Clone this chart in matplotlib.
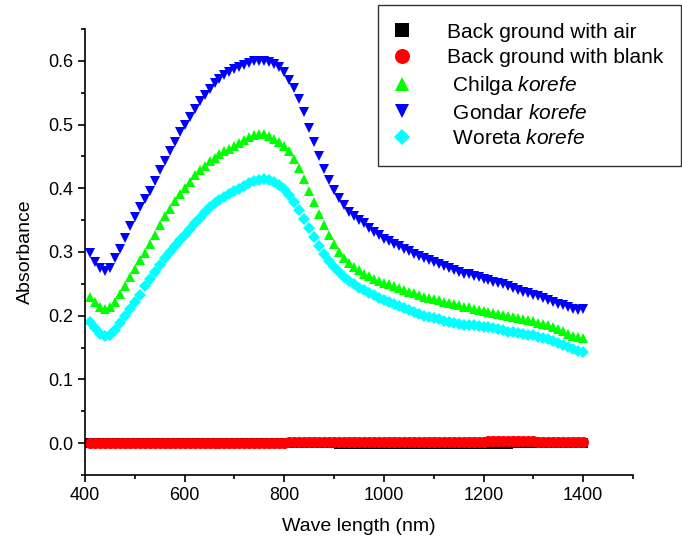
import numpy as np
import matplotlib
matplotlib.use("Agg")
import matplotlib.pyplot as plt

plt.rcParams['font.family'] = ['Liberation Sans', 'DejaVu Sans']
plt.rcParams['mathtext.fontset'] = 'custom'
plt.rcParams['mathtext.it'] = 'Liberation Sans:italic'
plt.rcParams['mathtext.rm'] = 'Liberation Sans'

# wavelength grid (nm)
wavelength = list(range(410, 1401, 10))

# background with air
air = [0.000] * 50 + [-0.001] * 35 + [0.000] * 15

# background with blank
blank = [0.000] * 40 + [0.001] * 30 + [0.002] * 10 + [0.003] * 10 + [0.001] * 10

# Gondar korefe
gondar = [
    0.298, 0.285, 0.275, 0.270, 0.275, 0.290, 0.305, 0.322, 0.340, 0.355,
    0.370, 0.383, 0.396, 0.412, 0.428, 0.443, 0.458, 0.473, 0.488, 0.500,
    0.512, 0.525, 0.537, 0.547, 0.556, 0.565, 0.571, 0.577, 0.582, 0.587,
    0.591, 0.594, 0.597, 0.599, 0.600, 0.600, 0.598, 0.595, 0.590, 0.582,
    0.570, 0.557, 0.540, 0.520, 0.495, 0.472, 0.450, 0.430, 0.413, 0.397,
    0.385, 0.373, 0.363, 0.356, 0.350, 0.345, 0.338, 0.332, 0.326, 0.321,
    0.317, 0.313, 0.309, 0.305, 0.301, 0.297, 0.294, 0.290, 0.287, 0.284,
    0.281, 0.278, 0.275, 0.271, 0.268, 0.266, 0.266, 0.263, 0.260, 0.258,
    0.256, 0.253, 0.251, 0.249, 0.246, 0.243, 0.240, 0.237, 0.235, 0.233,
    0.231, 0.228, 0.225, 0.222, 0.219, 0.216, 0.213, 0.210, 0.209, 0.211,
]

# Chilga korefe
chilga = [
    0.230, 0.222, 0.214, 0.211, 0.213, 0.222, 0.234, 0.247, 0.260, 0.273,
    0.287, 0.299, 0.313, 0.327, 0.342, 0.356, 0.368, 0.380, 0.391, 0.400,
    0.410, 0.420, 0.428, 0.435, 0.442, 0.448, 0.453, 0.458, 0.462, 0.467,
    0.471, 0.476, 0.480, 0.483, 0.485, 0.485, 0.482, 0.478, 0.473, 0.467,
    0.458, 0.446, 0.431, 0.414, 0.396, 0.378, 0.360, 0.342, 0.326, 0.312,
    0.300, 0.290, 0.282, 0.276, 0.271, 0.266, 0.262, 0.258, 0.255, 0.252,
    0.249, 0.246, 0.243, 0.240, 0.237, 0.235, 0.232, 0.230, 0.228, 0.226,
    0.224, 0.222, 0.220, 0.218, 0.216, 0.214, 0.213, 0.211, 0.209, 0.207,
    0.205, 0.204, 0.202, 0.201, 0.199, 0.198, 0.196, 0.195, 0.193, 0.191,
    0.189, 0.187, 0.185, 0.182, 0.179, 0.176, 0.172, 0.168, 0.166, 0.165,
]

# Woreta korefe
woreta = [
    0.190, 0.180, 0.172, 0.168, 0.170, 0.178, 0.189, 0.200, 0.210, 0.221,
    0.233, 0.246, 0.258, 0.268, 0.280, 0.290, 0.300, 0.309, 0.318, 0.327,
    0.336, 0.346, 0.354, 0.362, 0.370, 0.377, 0.382, 0.387, 0.391, 0.395,
    0.399, 0.404, 0.408, 0.411, 0.413, 0.414, 0.413, 0.410, 0.405, 0.399,
    0.390, 0.379, 0.366, 0.352, 0.338, 0.323, 0.310, 0.297, 0.286, 0.277,
    0.269, 0.261, 0.254, 0.249, 0.244, 0.240, 0.236, 0.232, 0.228, 0.225,
    0.221, 0.218, 0.215, 0.212, 0.209, 0.206, 0.203, 0.200, 0.198, 0.196,
    0.194, 0.192, 0.190, 0.188, 0.187, 0.186, 0.186, 0.185, 0.184, 0.183,
    0.182, 0.181, 0.179, 0.177, 0.175, 0.174, 0.173, 0.172, 0.170, 0.169,
    0.167, 0.165, 0.163, 0.160, 0.157, 0.154, 0.151, 0.148, 0.145, 0.143,
]

labels = ['Back ground with air', 'Back ground with blank',
          r' Chilga $\it{korefe}$', r' Gondar $\it{korefe}$', r' Woreta $\it{korefe}$']

fig = plt.figure(figsize=(6.82, 5.5), dpi=100)
ax = fig.add_axes([0.1246, 0.1364, 0.8035, 0.811])

ms = 7
h1, = ax.plot(wavelength, air, 's', color='black', ms=ms, mew=0)
h2, = ax.plot(wavelength, blank, 'o', color='#ff0000', ms=ms + 1, mew=0)
h3, = ax.plot(wavelength, chilga, '^', color='#00ff00', ms=ms, mew=0)
h4, = ax.plot(wavelength, gondar, 'v', color='#0000ff', ms=ms, mew=0)
h5, = ax.plot(wavelength, woreta, 'D', color='#00ffff', ms=ms * 0.85, mew=0)

ax.set_xlim(400, 1500)
ax.set_ylim(-0.05, 0.65)
ax.set_xticks([400, 600, 800, 1000, 1200, 1400])
ax.set_xticks(np.arange(500, 1501, 200), minor=True)
ax.set_yticks(np.arange(0, 0.61, 0.1))
ax.set_yticks(np.arange(-0.05, 0.66, 0.1), minor=True)
ax.yaxis.set_major_formatter(matplotlib.ticker.FormatStrFormatter('%.1f'))

for s in ['top', 'right']:
    ax.spines[s].set_visible(False)
for s in ['left', 'bottom']:
    ax.spines[s].set_linewidth(1.2)

ax.tick_params(which='major', direction='out', length=5, width=1.2, labelsize=13)
ax.tick_params(which='minor', direction='out', length=3, width=1.2)

ax.set_xlabel('Wave length (nm)', fontsize=14, labelpad=10)
ax.set_ylabel('Absorbance', fontsize=14, labelpad=10)

leg = fig.legend([h1, h2, h3, h4, h5], labels, loc='upper right',
                 bbox_to_anchor=(681 / 682, 1 - 5 / 550), bbox_transform=fig.transFigure,
                 fontsize=15, frameon=True, fancybox=False, edgecolor='black',
                 handlelength=0.6, handletextpad=1.85, labelspacing=0.32,
                 borderpad=0.85, borderaxespad=0, markerscale=1.35)
leg.get_frame().set_linewidth(1.0)

fig.savefig('out.png', dpi=100)
